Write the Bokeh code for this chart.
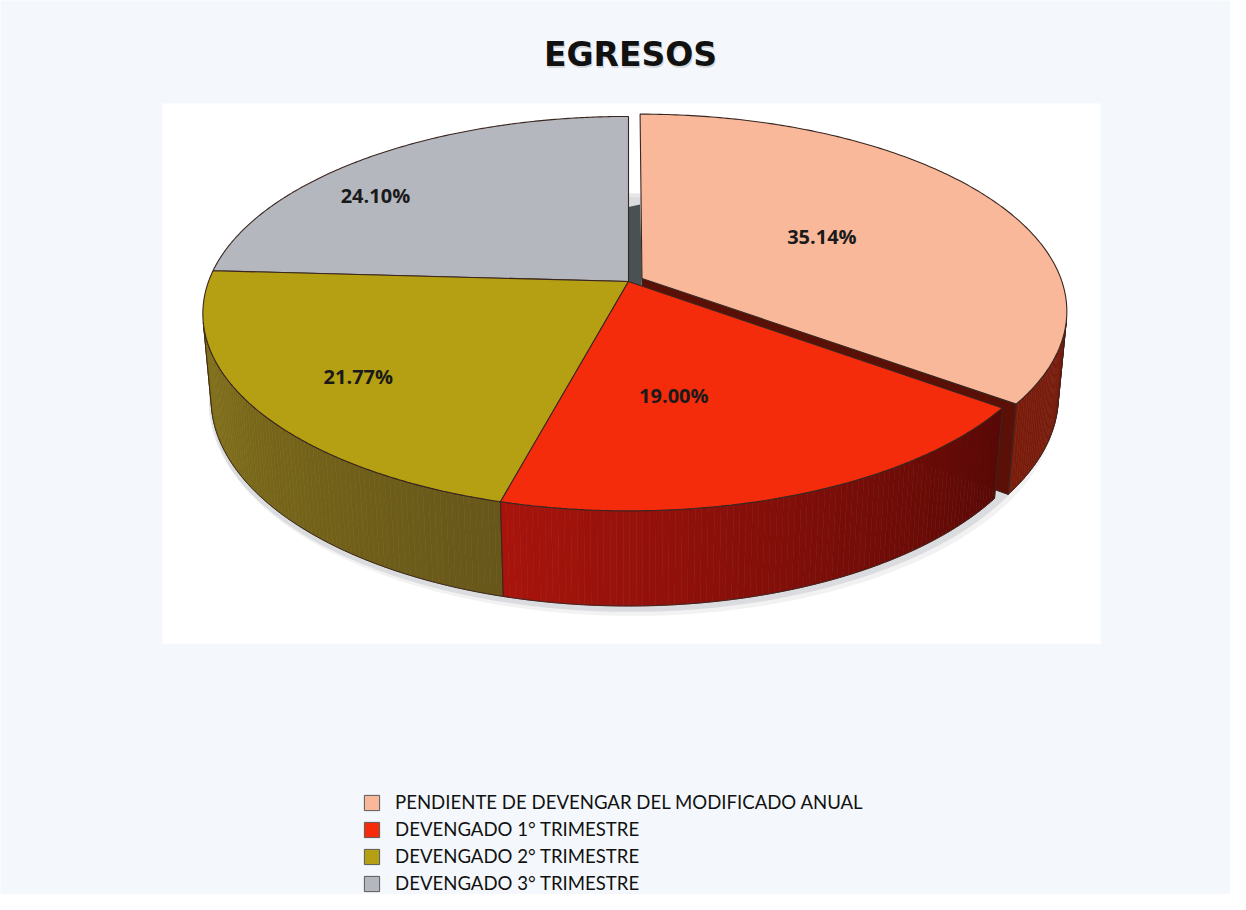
import numpy as np
from bokeh.plotting import figure
from bokeh.models import Range1d, Legend, LegendItem
from bokeh.core.properties import value
from bokeh.embed import file_html
from bokeh.resources import INLINE

# ---------------- data ----------------
categories = ["PENDIENTE DE DEVENGAR DEL MODIFICADO ANUAL",
              "DEVENGADO 1° TRIMESTRE",
              "DEVENGADO 2° TRIMESTRE",
              "DEVENGADO 3° TRIMESTRE"]
values = [35.14, 19.00, 21.77, 24.10]
labels = ["35.14%", "19.00%", "21.77%", "24.10%"]
title_text = "EGRESOS"

# ---------------- style ----------------
top_colors = ["#F9B89A", "#F52C0C", "#B59F12", "#B5B7BE"]
wall_dark = ["#5E1208", "#580906", "#67571A", "#5E6066"]
wall_light = ["#7A1C0C", "#A8140C", "#8A7818", "#7C7E86"]
explode = [0.036, 0.0, 0.0, 0.0]
label_r = [0.50, 0.55, 0.75, 0.81]
label_da = [0.0, 9.0, -1.5, -10.0]
edge_col = "#3A2620"

W, Hh = 1230, 894
p = figure(width=W, height=Hh, output_backend="svg", toolbar_location=None,
           x_range=Range1d(0, W), y_range=Range1d(0, Hh), min_border=0)
p.axis.visible = False
p.grid.visible = False
p.outline_line_color = None
p.background_fill_color = "#F4F8FC"
p.border_fill_color = "#F4F8FC"

# white chart area
p.quad(left=[162], right=[1100], bottom=[251], top=[791], fill_color="white", line_color=None)

# ---------------- 3D projection ----------------
phi = np.radians(27.2)
D = 5.46
F = 2293.0
CX, CY = 628.0, 613.0
TH = 0.23
sp, cp = np.sin(phi), np.cos(phi)
CAM = np.array([0.0, D * sp, D * cp])


def proj(X, Y, Z):
    X = np.asarray(X, float); Y = np.asarray(Y, float); Z = np.asarray(Z, float)
    depth = D - (Y * sp + Z * cp)
    return CX + F * X / depth, CY + F * (Y * cp - Z * sp) / depth, depth


def rim(a_deg, r=1.0):
    a = np.radians(a_deg)
    return r * np.sin(a), -r * np.cos(a)


total = sum(values)
angles = np.concatenate([[0.0], np.cumsum(values) / total * 360.0])
slices = []
for i in range(len(values)):
    a0, a1 = angles[i], angles[i + 1]
    am = 0.5 * (a0 + a1)
    ox, oz = rim(am, explode[i])
    slices.append((a0, a1, am, ox, oz))


def hexmix(c1, c2, t):
    a = np.array([int(c1[k:k + 2], 16) for k in (1, 3, 5)], float)
    b = np.array([int(c2[k:k + 2], 16) for k in (1, 3, 5)], float)
    m = a + (b - a) * t
    return "#%02x%02x%02x" % tuple(int(round(v)) for v in m)


def visible(a_deg, ox, oz):
    a = np.radians(a_deg)
    n = np.array([np.sin(a), 0.0, -np.cos(a)])
    P = np.array([np.sin(a) + ox, 0.0, -np.cos(a) + oz])
    return np.dot(CAM - P, n) > 0


# soft shadow under the pie
sa = np.linspace(0, 360, 181)
sx_, sz_ = rim(sa, 1.01)
bx, by, _ = proj(sx_, -TH * np.ones_like(sa), sz_)
p.patch(bx + 5, by - 7, fill_color="#9098A0", fill_alpha=0.12, line_color=None)
p.patch(bx + 2, by - 3, fill_color="#808890", fill_alpha=0.2, line_color=None)

# ---------------- walls ----------------
draw_order = [0, 3, 2, 1]
for i in draw_order:
    a0, a1, am, ox, oz = slices[i]
    n = max(int((a1 - a0) / 0.75), 2)
    aa = np.linspace(a0, a1, n + 1)
    quads_x, quads_y, cols, deps = [], [], [], []
    for k in range(n):
        s, e = aa[k], aa[k + 1]
        if not (visible(s, ox, oz) or visible(e, ox, oz)):
            continue
        xs, zs = rim(np.array([s, e, e, s]))
        ys = np.array([0, 0, -TH, -TH])
        px, py, dep = proj(xs + ox, ys, zs + oz)
        quads_x.append(list(px)); quads_y.append(list(py))
        t = (0.5 * (s + e) - a0) / (a1 - a0)
        cols.append(hexmix(wall_dark[i], wall_light[i], t))
        deps.append(dep.mean())
    if quads_x:
        order = np.argsort(deps)[::-1]
        p.patches([quads_x[j] for j in order], [quads_y[j] for j in order],
                  fill_color=[cols[j] for j in order], line_color=[cols[j] for j in order],
                  line_width=0.6)
        vis = [a for a in np.linspace(a0, a1, 200) if visible(a, ox, oz)]
        if len(vis) > 1:
            va = np.array(vis)
            xs, zs = rim(va)
            tx, ty, _ = proj(xs + ox, np.zeros_like(va), zs + oz)
            bx2, by2, _ = proj(xs + ox, -TH * np.ones_like(va), zs + oz)
            p.patch(np.concatenate([tx, bx2[::-1]]), np.concatenate([ty, by2[::-1]]),
                    fill_color=None, line_color=edge_col, line_width=1.0)
    if i == 0:
        # cut face at the end of the exploded slice (seen through the gap)
        xe, ze = rim(a1)
        fx = np.array([0, xe, xe, 0]) + ox
        fz = np.array([0, ze, ze, 0]) + oz
        fy = np.array([0, 0, -TH, -TH])
        px, py, _ = proj(fx, fy, fz)
        p.patch(px, py, fill_color="#5A1006", line_color=edge_col, line_width=1.0)
        # start face (dark area between grey and pink)
        xs0, zs0 = rim(a0, 0.9)
        gx, gy, _ = proj(np.array([0, 0]), np.array([-TH, -TH]), np.array([0, zs0]))
        kx, ky, _ = proj(np.array([ox, ox]), np.array([0, -TH]), np.array([oz, zs0 + oz]))
        p.patch([gx[0], gx[1], kx[1], kx[0]], [gy[0], gy[1], ky[1], ky[0]],
                fill_color="#4A5152", line_color=None)

# ---------------- tops ----------------
for i in [3, 2, 0, 1]:
    a0, a1, am, ox, oz = slices[i]
    aa = np.linspace(a0, a1, 200)
    xs, zs = rim(aa)
    X = np.concatenate([[0.0], xs]) + ox
    Z = np.concatenate([[0.0], zs]) + oz
    px, py, _ = proj(X, np.zeros_like(X), Z)
    p.patch(px, py, fill_color=top_colors[i], line_color=edge_col, line_width=1.1)

# ---------------- labels ----------------
lx, ly = [], []
for i in range(len(values)):
    a0, a1, am, ox, oz = slices[i]
    xs, zs = rim(am + label_da[i], label_r[i])
    px, py, _ = proj(xs + ox, 0.0, zs + oz)
    lx.append(float(px)); ly.append(float(py))
p.text(x=lx, y=ly, text=labels, text_align="center", text_baseline="middle",
       text_font=value("Open Sans"), text_font_style="bold", text_font_size="20px",
       text_color="#1A1A1A")

# ---------------- title ----------------
p.text(x=[631], y=[838], text=[title_text], text_align="center", text_baseline="middle",
       text_font=value("DejaVu Sans"), text_font_style="bold", text_font_size="33px",
       text_color="#9A9A9A", text_alpha=0.35)
p.text(x=[630], y=[840], text=[title_text], text_align="center", text_baseline="middle",
       text_font=value("DejaVu Sans"), text_font_style="bold", text_font_size="33px",
       text_color="#111111")

# ---------------- legend ----------------
items = []
for i, c in enumerate(categories):
    r = p.quad(left=[np.nan], right=[np.nan], top=[np.nan], bottom=[np.nan],
               fill_color=top_colors[i], line_color="#5A5A5A", line_width=1)
    items.append(LegendItem(label=c, renderers=[r]))
legend = Legend(items=items, location=(362, 0), orientation="vertical",
                label_text_font="Lato", label_text_font_size="18.6px", label_text_color="#111111",
                glyph_width=19, glyph_height=19, label_standoff=14, spacing=5,
                padding=0, margin=0, border_line_alpha=0, background_fill_alpha=0,
                label_height=20)
p.add_layout(legend)

open("out.html", "w").write(file_html(p, INLINE))
